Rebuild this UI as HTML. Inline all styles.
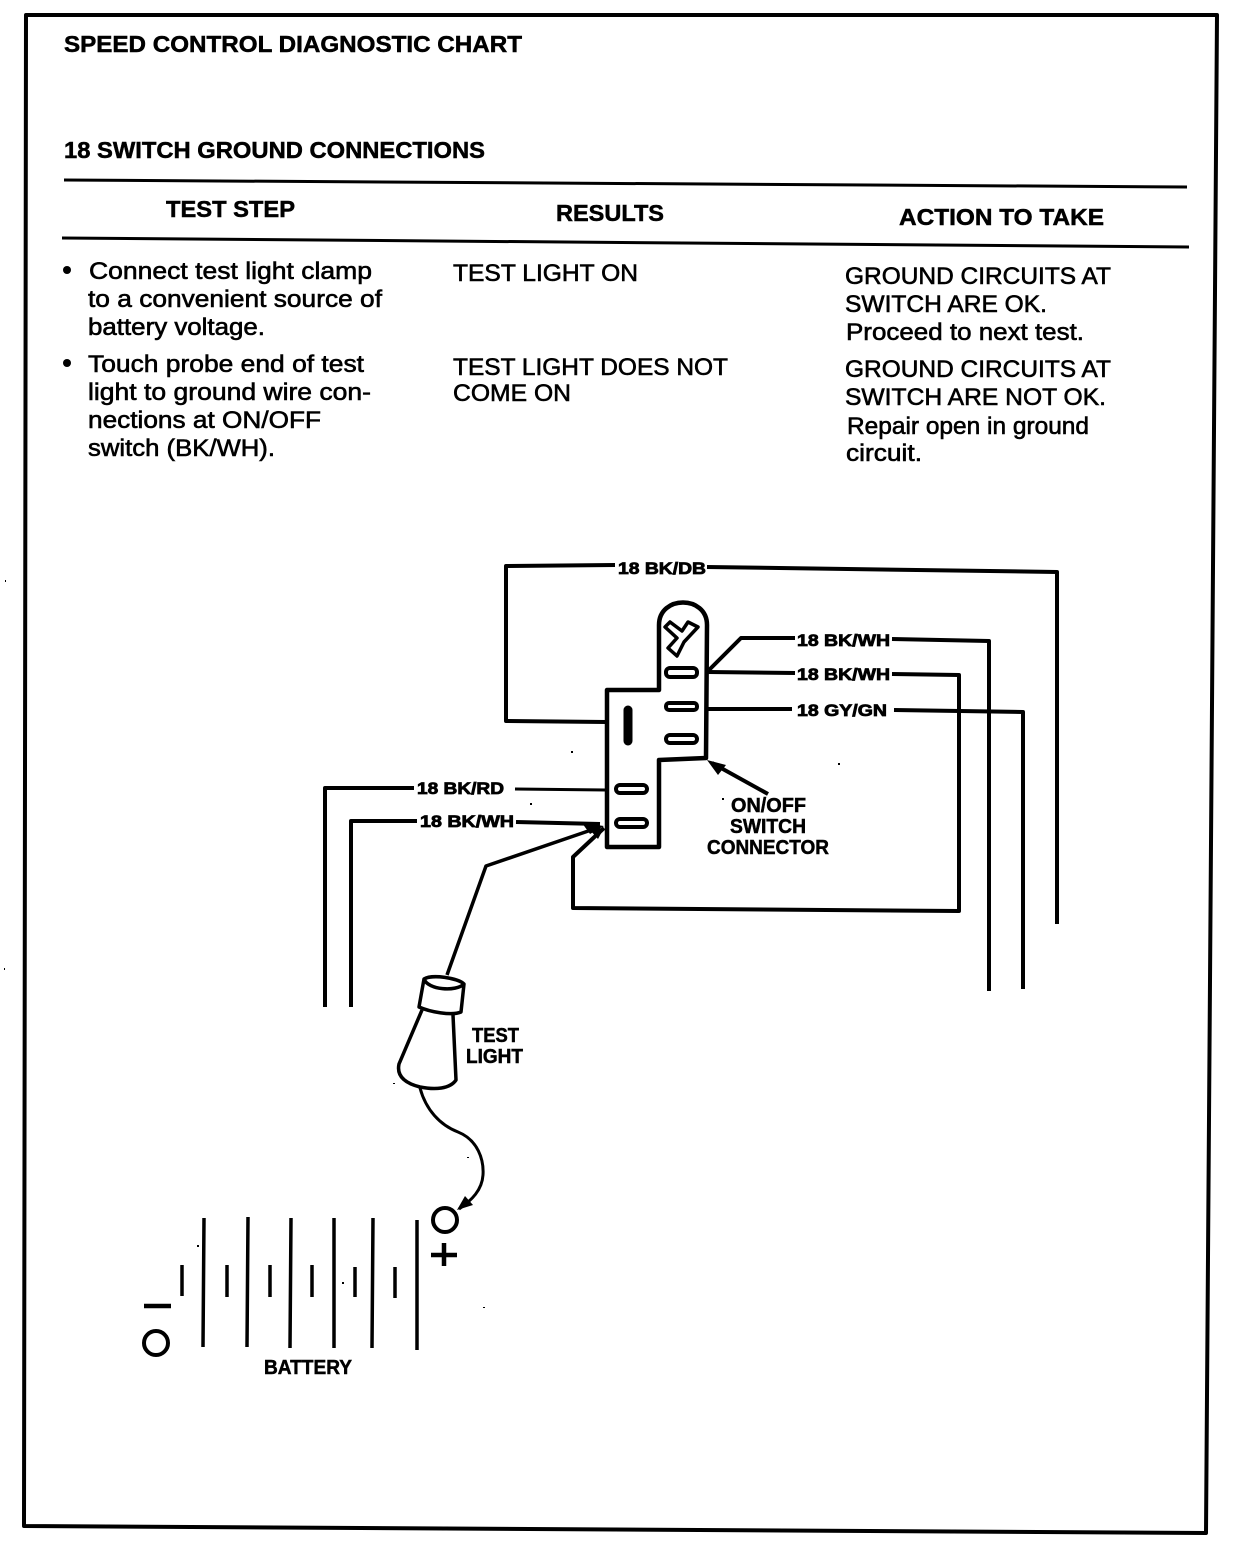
<!DOCTYPE html>
<html><head><meta charset="utf-8"><style>
html,body{margin:0;padding:0;background:#fff}
svg{display:block}
text{font-family:"Liberation Sans",sans-serif;fill:#000;stroke:#000}
.h{font-size:23px;font-weight:bold;stroke-width:.5}
.b{font-size:24px;stroke-width:.6}
.l{font-size:17px;font-weight:bold;stroke-width:.8}
.m{font-size:20px;font-weight:bold;stroke-width:.5}
</style></head><body>
<svg width="1248" height="1544" viewBox="0 0 1248 1544" xmlns="http://www.w3.org/2000/svg">
<rect width="1248" height="1544" fill="#fff"/>
<g fill="none" stroke="#000" stroke-linejoin="round">
<path d="M26 15 L1217 15 L1206 1533 L24 1526 Z" stroke-width="4"/>
<path d="M64 180 L1187 187" stroke-width="3"/>
<path d="M62 238 L1189 247" stroke-width="3"/>

<!-- wires -->
<g stroke-width="4">
<path d="M615 565 L506 566 L506 721 L606 722"/>
<path d="M707 567 L1057 572 L1057 924"/>
<path d="M709 670 L741 638 L795 638"/>
<path d="M708 672 L795 673"/>
<path d="M708 709 L792 709"/>
<path d="M892 639 L989 641 L989 991"/>
<path d="M892 674 L959 675 L959 911 L573 908 L573 857 L604 828"/>
<path d="M894 710 L1023 712 L1023 989"/>
<path d="M515 789 L606 790" stroke-width="3"/>
<path d="M414 788 L325 788 L325 1007"/>
<path d="M417 821 L351 821 L351 1007"/>
<path d="M516 822 L600 824"/>
<path d="M600 827 L486 866 L447 975" stroke-width="3.5"/>
</g>

<!-- connector -->
<path d="M607 690 L659 690 L659 625 C659 595 707 595 707 625 L706 758 L659 760 L659 847 L607 847 Z" stroke-width="4.5"/>
<rect x="666" y="668" width="31" height="9" rx="4" stroke-width="4"/>
<rect x="666" y="703" width="31" height="7" rx="3" stroke-width="4"/>
<rect x="666" y="735" width="31" height="8" rx="4" stroke-width="4"/>
<rect x="616" y="785" width="31" height="8" rx="4" stroke-width="4"/>
<rect x="616" y="819" width="31" height="8" rx="4" stroke-width="4"/>
<path d="M628 710 L628 741" stroke-width="9" stroke-linecap="round"/>
<path d="M665 627 L670 622 L682 631 L688 622 L698 627 L684 642 L677 656 L668 648 L677 638 Z" stroke-width="3.5"/>

<path d="M768 794 L712 763" stroke-width="4"/>

<!-- lamp -->
<g stroke-width="3.5">
<path d="M424 979 C432 974 458 978 464 984 L461 1012 C452 1016 430 1012 419 1007 Z"/>
<path d="M424 979 C428 990 456 992 464 984"/>
<path d="M422 1010 L399 1064 C396 1078 408 1084 420 1087 C435 1090 450 1089 456 1080 L453 1015"/>
<path d="M420 1088 C426 1110 440 1125 458 1132 C478 1140 484 1160 483 1175 C482 1190 472 1200 459 1209" stroke-width="3"/>
</g>
<circle cx="445" cy="1220" r="12" stroke-width="4"/>
<path d="M431 1255 L457 1255 M444 1243 L444 1266" stroke-width="4.5"/>
<circle cx="156" cy="1343" r="12" stroke-width="4"/>
<path d="M144 1306 L171 1306" stroke-width="4.5"/>

<!-- battery -->
<g stroke-width="3.5">
<path d="M204 1218 L203 1347 M248 1217 L247 1347 M291 1218 L290 1348 M334 1218 L334 1348 M373 1218 L372 1348 M417 1220 L417 1350"/>
<path d="M182 1265 L182 1296 M227 1265 L227 1297 M270 1265 L270 1297 M312 1265 L312 1297 M355 1267 L355 1297 M395 1267 L395 1298"/>
</g>
</g>
<path d="M604 826 L582 823 L590 834 Z M604 828 L590 830 L598 839 Z" fill="#000"/>
<path d="M707 760 L726 765 L718 775 Z" fill="#000"/>
<path d="M457 1210 L465 1196 L473 1205 Z" fill="#000"/>

<!-- specks -->
<g fill="#000">
<rect x="571" y="751" width="2" height="2"/><rect x="530" y="803" width="2" height="2"/>
<rect x="838" y="763" width="2" height="2"/><rect x="722" y="798" width="2" height="2"/>
<rect x="197" y="1245" width="2" height="2"/><rect x="342" y="1282" width="2" height="2"/>
<rect x="483" y="1307" width="2" height="1"/><rect x="393" y="1083" width="2" height="1"/>
<rect x="467" y="1157" width="2" height="1"/><rect x="5" y="580" width="1" height="2"/>
<rect x="4" y="968" width="1" height="2"/>
</g>

<!-- headings -->
<text class="h" x="64" y="52" textLength="458" lengthAdjust="spacingAndGlyphs">SPEED CONTROL DIAGNOSTIC CHART</text>
<text class="h" x="64" y="158" textLength="421" lengthAdjust="spacingAndGlyphs">18 SWITCH GROUND CONNECTIONS</text>
<text class="h" x="166" y="217" textLength="129" lengthAdjust="spacingAndGlyphs">TEST STEP</text>
<text class="h" x="556" y="221" textLength="108" lengthAdjust="spacingAndGlyphs">RESULTS</text>
<text class="h" x="899" y="225" textLength="205" lengthAdjust="spacingAndGlyphs">ACTION TO TAKE</text>

<!-- body -->
<circle cx="67" cy="270" r="4" fill="#000" stroke="none"/>
<circle cx="67" cy="363" r="4" fill="#000" stroke="none"/>
<text class="b" x="89" y="279" textLength="283" lengthAdjust="spacingAndGlyphs">Connect test light clamp</text>
<text class="b" x="88" y="307" textLength="294" lengthAdjust="spacingAndGlyphs">to a convenient source of</text>
<text class="b" x="88" y="335" textLength="177" lengthAdjust="spacingAndGlyphs">battery voltage.</text>
<text class="b" x="88" y="372" textLength="276" lengthAdjust="spacingAndGlyphs">Touch probe end of test</text>
<text class="b" x="88" y="400" textLength="283" lengthAdjust="spacingAndGlyphs">light to ground wire con-</text>
<text class="b" x="88" y="428" textLength="233" lengthAdjust="spacingAndGlyphs">nections at ON/OFF</text>
<text class="b" x="88" y="456" textLength="187" lengthAdjust="spacingAndGlyphs">switch (BK/WH).</text>

<text class="b" x="453" y="281" textLength="185" lengthAdjust="spacingAndGlyphs">TEST LIGHT ON</text>
<text class="b" x="453" y="375" textLength="275" lengthAdjust="spacingAndGlyphs">TEST LIGHT DOES NOT</text>
<text class="b" x="453" y="401" textLength="118" lengthAdjust="spacingAndGlyphs">COME ON</text>

<text class="b" x="845" y="284" textLength="266" lengthAdjust="spacingAndGlyphs">GROUND CIRCUITS AT</text>
<text class="b" x="845" y="312" textLength="202" lengthAdjust="spacingAndGlyphs">SWITCH ARE OK.</text>
<text class="b" x="846" y="340" textLength="238" lengthAdjust="spacingAndGlyphs">Proceed to next test.</text>
<text class="b" x="845" y="377" textLength="266" lengthAdjust="spacingAndGlyphs">GROUND CIRCUITS AT</text>
<text class="b" x="845" y="405" textLength="261" lengthAdjust="spacingAndGlyphs">SWITCH ARE NOT OK.</text>
<text class="b" x="847" y="434" textLength="242" lengthAdjust="spacingAndGlyphs">Repair open in ground</text>
<text class="b" x="846" y="461" textLength="76" lengthAdjust="spacingAndGlyphs">circuit.</text>

<!-- wire labels -->
<text class="l" x="618" y="574" textLength="88" lengthAdjust="spacingAndGlyphs">18 BK/DB</text>
<text class="l" x="797" y="646" textLength="93" lengthAdjust="spacingAndGlyphs">18 BK/WH</text>
<text class="l" x="797" y="680" textLength="93" lengthAdjust="spacingAndGlyphs">18 BK/WH</text>
<text class="l" x="797" y="716" textLength="90" lengthAdjust="spacingAndGlyphs">18 GY/GN</text>
<text class="l" x="417" y="794" textLength="87" lengthAdjust="spacingAndGlyphs">18 BK/RD</text>
<text class="l" x="420" y="827" textLength="94" lengthAdjust="spacingAndGlyphs">18 BK/WH</text>

<text class="m" x="731" y="812" textLength="75" lengthAdjust="spacingAndGlyphs">ON/OFF</text>
<text class="m" x="730" y="833" textLength="76" lengthAdjust="spacingAndGlyphs">SWITCH</text>
<text class="m" x="707" y="854" textLength="122" lengthAdjust="spacingAndGlyphs">CONNECTOR</text>
<text class="m" x="472" y="1042" textLength="47" lengthAdjust="spacingAndGlyphs">TEST</text>
<text class="m" x="466" y="1063" textLength="57" lengthAdjust="spacingAndGlyphs">LIGHT</text>
<text class="m" x="264" y="1374" textLength="88" lengthAdjust="spacingAndGlyphs">BATTERY</text>
</svg>
</body></html>
